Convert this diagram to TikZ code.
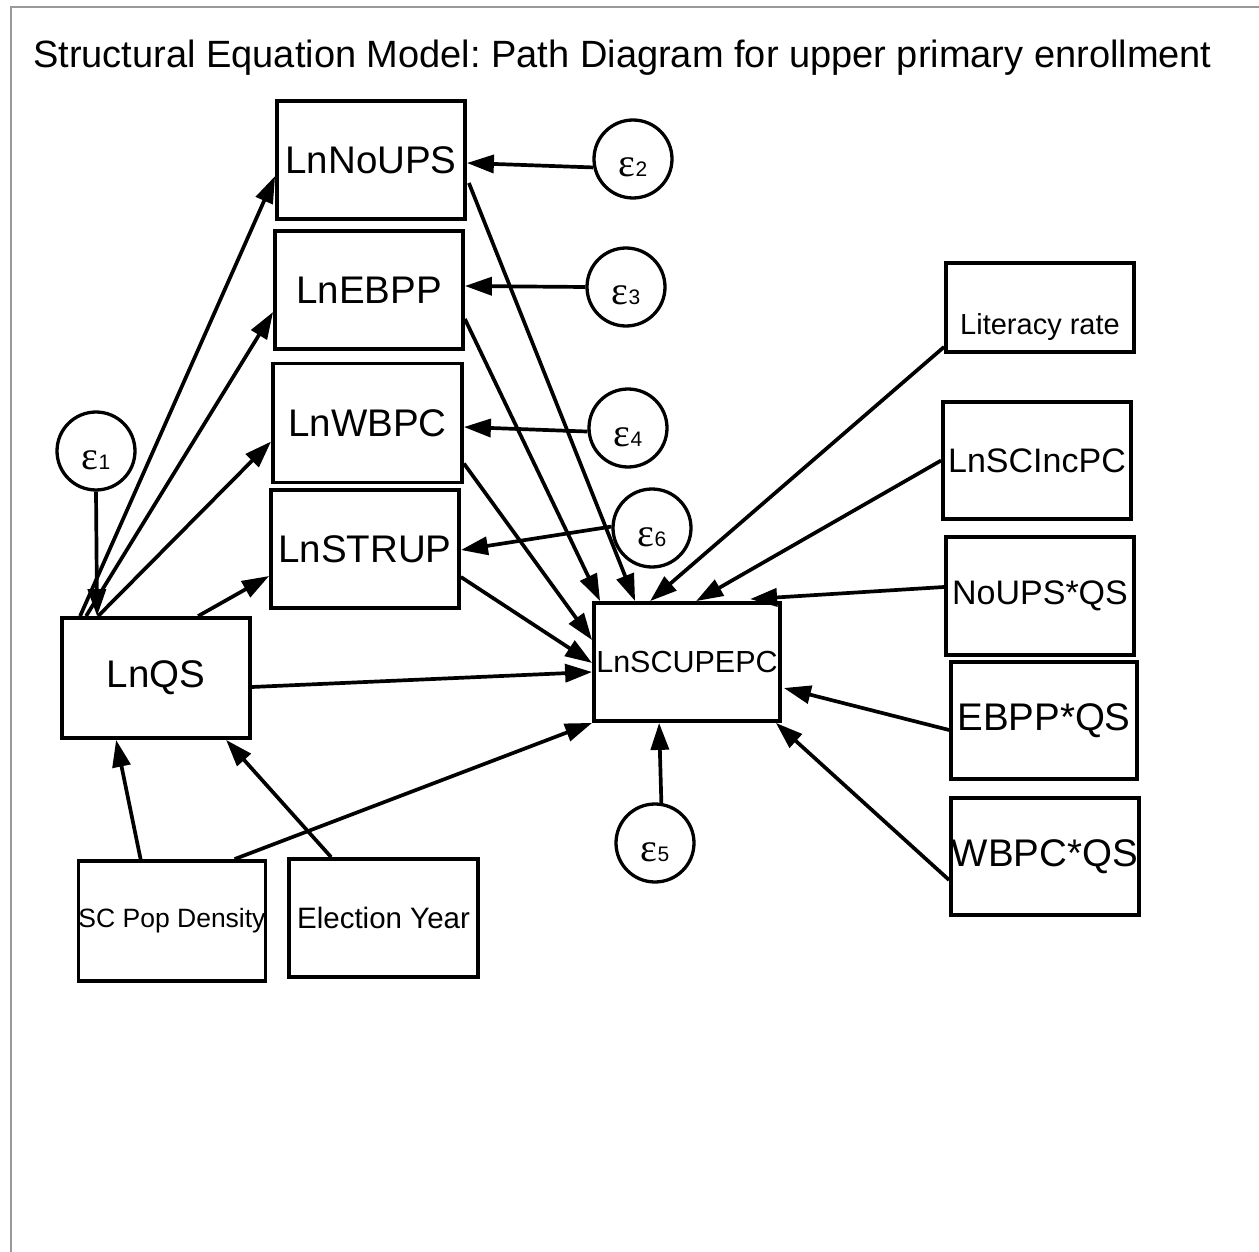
\documentclass[tikz,border=0pt]{standalone}
\usepackage{fontspec}
\setmainfont{Liberation Sans}
\newfontfamily\grk{Liberation Serif}
\usetikzlibrary{arrows.meta,calc}
\frenchspacing

\newcommand{\fs}[1]{\fontsize{#1}{#1}\selectfont}
\newcommand{\err}[1]{{\fs{40}\grk ε}{\fs{21}#1}}

\begin{document}
\begin{tikzpicture}[x=1pt,y=-1pt,
  var/.style={draw, line width=3.8pt, rectangle, inner sep=0pt,
              minimum width=188pt, minimum height=118pt, font=\fs{38.5}},
  errc/.style={draw, line width=3.3pt, circle, inner sep=0pt, minimum size=78pt,
               text height=36pt, text depth=0pt},
  path/.style={line width=3.7pt, -{Triangle[length=27pt,width=18pt]}}]

\useasboundingbox (0,0) rectangle (1259,1252);
% frame lines
\draw[line width=1.5pt, gray!80] (11,1252) -- (11,7) -- (1259,7);

% title
\node[anchor=base west, font=\fs{38}, inner sep=0pt] (title) at (33,68)
  {Structural Equation Model: Path Diagram for upper primary enrollment};

% observed variables
\node[var] (nups)  at (371,160)   {LnNoUPS};
\node[var] (ebpp)  at (369,290)   {LnEBPP};
\node[var, minimum width=189pt, minimum height=119pt] (wbpc) at (367.5,423) {LnWBPC};
\node[var] (strup) at (365,549)   {LnSTRUP};
\node[var, minimum height=120pt] (qs) at (156,678) {LnQS};
\node[var, minimum width=186pt, minimum height=120pt, font=\fs{26.5}] (scpop) at (172,921) {SC Pop Density};
\node[var, minimum width=189pt, font=\fs{29.5}] (elect) at (383.5,918) {Election Year};
\node[var, minimum width=186pt, font=\fs{30.5}] (sc) at (687,662) {LnSCUPEPC};
\node[var, minimum height=89pt, font=\fs{29}, text height=54pt, text depth=0pt] (lit) at (1040,307.5) {Literacy rate};
\node[var, minimum height=117pt, font=\fs{34}] (inc) at (1037,460.5) {LnSCIncPC};
\node[var, font=\fs{34}] (nqs) at (1040,596) {NoUPS*QS};
\node[var, minimum width=186pt, minimum height=117pt] (eqs) at (1044,720.5) {EBPP*QS};
\node[var, minimum height=117pt] (wqs) at (1045,856.5) {WBPC*QS};

% error terms
\node[errc] (e1) at (96,451)  {\err{1}};
\node[errc] (e2) at (633,159) {\err{2}};
\node[errc] (e3) at (626,287) {\err{3}};
\node[errc] (e4) at (628,428) {\err{4}};
\node[errc] (e6) at (652,528) {\err{6}};
\node[errc] (e5) at (655,843) {\err{5}};

% paths out of LnQS
\draw[path] ([xshift=20pt]qs.north west)  -- ([yshift=-16pt]nups.west);
\draw[path] ([xshift=26pt]qs.north west)  -- ([yshift=-22pt]ebpp.west);
\draw[path] ([xshift=38pt]qs.north west)  -- ([yshift=-18.5pt]wbpc.west);
\draw[path] ([xshift=138pt]qs.north west) -- ([yshift=-27pt]strup.west);
\draw[path] ([yshift=-9pt]qs.east)        -- ([yshift=-10pt]sc.west);

% mediators to LnSCUPEPC
\draw[path] ([yshift=-23pt,xshift=2pt]nups.east) -- ([xshift=43pt]sc.north west);
\draw[path] ([yshift=-29pt]ebpp.east)   -- ([xshift=8pt]sc.north west);
\draw[path] ([yshift=-40.5pt]wbpc.east) -- ([yshift=-39pt]sc.north west);
\draw[path] ([yshift=-28pt]strup.east)  -- ([yshift=-1pt]sc.west);

% exogenous variables
\draw[path] ([xshift=158pt]scpop.north west) -- (sc.south west);
\draw[path] ([xshift=64pt]scpop.north west)  -- ([xshift=56pt]qs.south west);
\draw[path] ([xshift=44pt]elect.north west)  -- ([xshift=166pt]qs.south west);
\draw[path] ([yshift=7pt]lit.south west)     -- ([xshift=58pt]sc.north west);
\draw[path] (inc.west)                       -- ([xshift=104pt]sc.north west);
\draw[path] ([yshift=9pt]nqs.west)           -- ([xshift=158pt,yshift=2pt]sc.north west);
\draw[path] ([yshift=-9.5pt]eqs.west)        -- ([xshift=2pt,yshift=-26pt]sc.east);
\draw[path] ([yshift=-23.5pt]wqs.west)       -- ([xshift=-6pt]sc.south east);

% error terms
\draw[path] (e1.south) -- ([xshift=37pt]qs.north west);
\draw[path] (e2.192)   -- ([yshift=-3pt]nups.east);
\draw[path] (e3.180)   -- ([yshift=4pt]ebpp.east);
\draw[path] (e4.185)   -- ([yshift=-4pt]wbpc.east);
\draw[path] (e6.178)   -- ([yshift=-1pt]strup.east);
\draw[path] (e5.81)    -- ([xshift=67pt]sc.south west);
\end{tikzpicture}
\end{document}
